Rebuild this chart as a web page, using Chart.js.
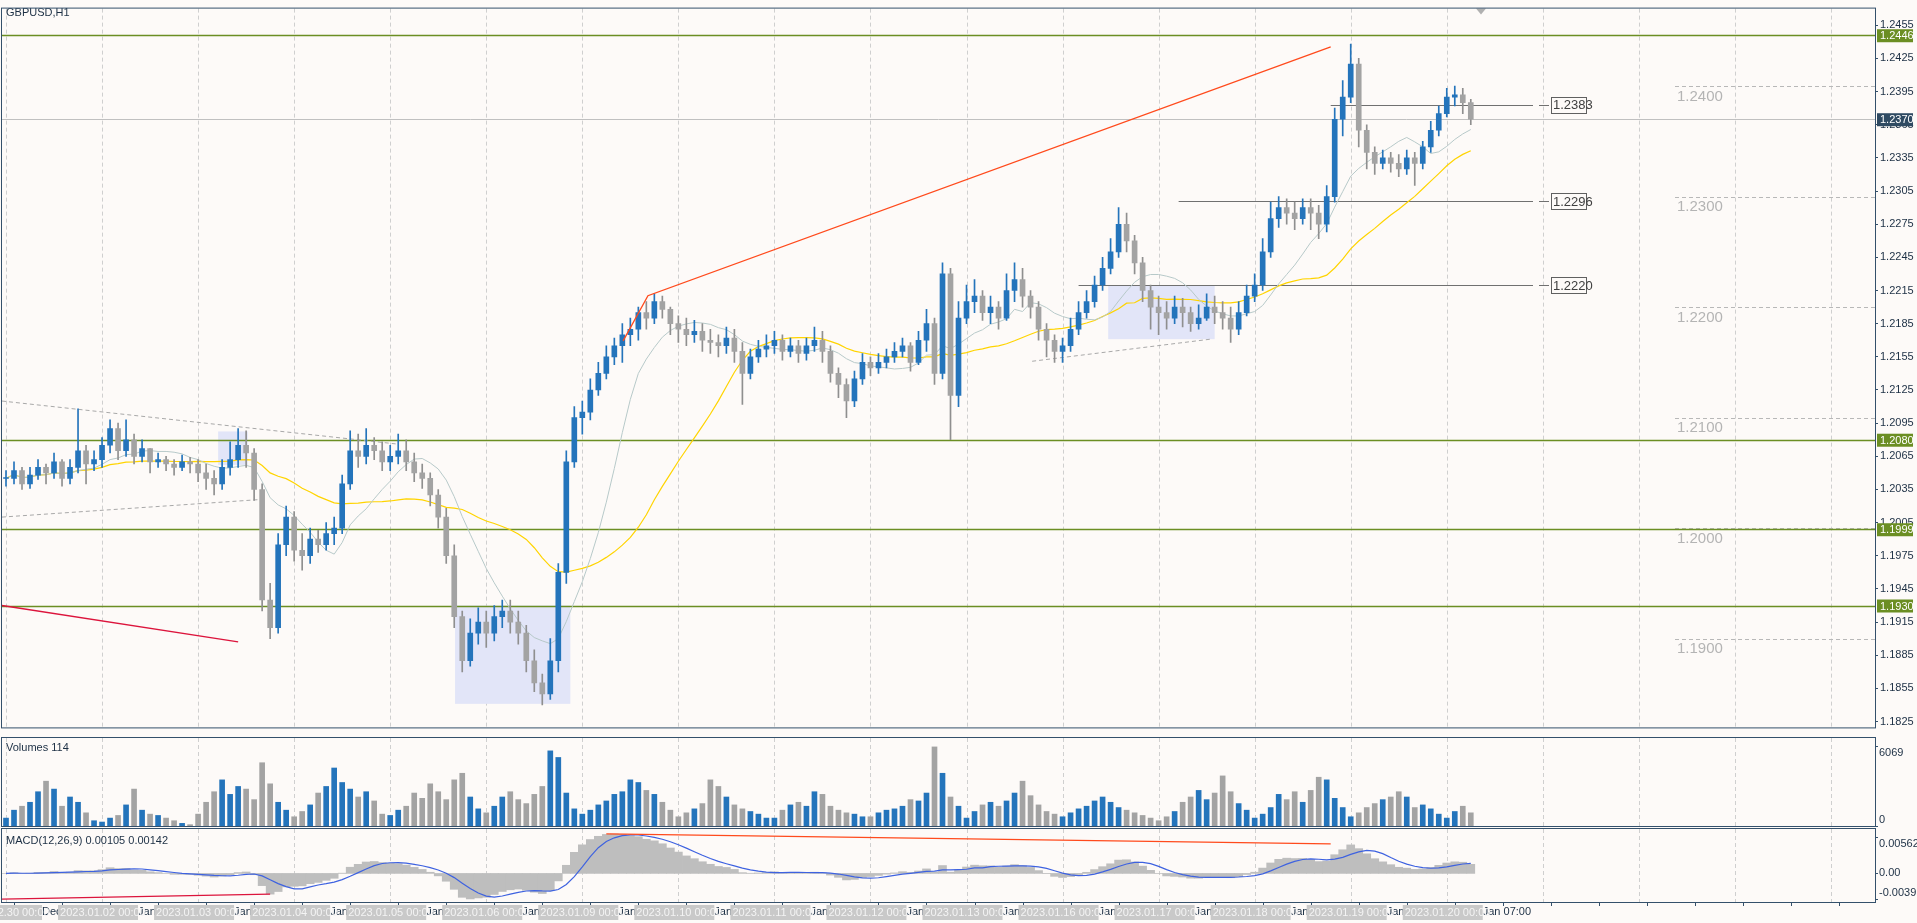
<!DOCTYPE html>
<html><head><meta charset="utf-8">
<script src="https://cdn.jsdelivr.net/npm/chart.js@4.4.0/dist/chart.umd.min.js"></script>
<style>
html,body{margin:0;padding:0;background:#fdfaf8;width:1917px;height:923px;overflow:hidden;font-family:"Liberation Sans",Arial,sans-serif}
canvas{position:absolute;left:0}
</style></head><body>
<canvas id="cMain" width="1917" height="736" style="top:0"></canvas>
<canvas id="cVol" width="1917" height="90" style="top:737px"></canvas>
<canvas id="cMacd" width="1917" height="97" style="top:828px"></canvas>
<script>
// ---- data (2-hour bars) ----
const OPEN0 = 1.2045;
const closes = [
1.2045,1.2052,1.2040,1.2048,1.2055,1.2050,1.2060,1.2045,1.2055,1.2070,1.2058,1.2062,
1.2075,1.2090,1.2070,1.2080,1.2065,1.2072,1.2060,1.2062,1.2058,1.2055,1.2060,1.2058,
1.2050,1.2045,1.2040,1.2055,1.2062,1.2075,1.2068,1.2035,1.1935,1.1910,1.1985,1.2010,
1.1980,1.1975,1.1990,1.1985,1.1995,1.2000,1.2040,1.2070,1.2065,1.2075,1.2070,1.2060,
1.2065,1.2070,1.2060,1.2050,1.2045,1.2030,1.2010,1.1975,1.1920,1.1880,1.1905,1.1915,
1.1905,1.1920,1.1925,1.1915,1.1905,1.1880,1.1860,1.1850,1.1880,1.1960,1.2060,1.2100,
1.2105,1.2125,1.2140,1.2155,1.2165,1.2175,1.2180,1.2195,1.2190,1.2205,1.2198,1.2185,
1.2180,1.2175,1.2178,1.2170,1.2168,1.2165,1.2172,1.2160,1.2140,1.2155,1.2162,1.2165,
1.2170,1.2160,1.2165,1.2158,1.2165,1.2170,1.2160,1.2140,1.2130,1.2115,1.2135,1.2150,
1.2145,1.2150,1.2155,1.2160,1.2165,1.2150,1.2170,1.2185,1.2140,1.2230,1.2120,1.2190,
1.2205,1.2210,1.2195,1.2200,1.2190,1.2215,1.2225,1.2210,1.2200,1.2180,1.2170,1.2160,
1.2165,1.2180,1.2195,1.2205,1.2220,1.2235,1.2250,1.2275,1.2260,1.2240,1.2215,1.2200,
1.2195,1.2190,1.2200,1.2195,1.2185,1.2190,1.2200,1.2195,1.2190,1.2180,1.2195,1.2210,
1.2220,1.2250,1.2280,1.2290,1.2285,1.2280,1.2290,1.2285,1.2275,1.2300,1.2370,1.2390,
1.2420,1.2360,1.2340,1.2330,1.2335,1.2330,1.2325,1.2335,1.2330,1.2345,1.2360,1.2375,
1.2390,1.2392,1.2385,1.2370];
const highs = [
1.2052,1.2060,1.2055,1.2055,1.2062,1.2058,1.2068,1.2062,1.2062,1.2108,1.2075,1.2070,
1.2082,1.2098,1.2095,1.2098,1.2085,1.2080,1.2072,1.2068,1.2065,1.2062,1.2066,1.2064,
1.2062,1.2058,1.2052,1.2062,1.2078,1.2090,1.2088,1.2072,1.2040,1.1950,1.1995,1.2020,
1.2015,1.1995,1.2000,1.1998,1.2005,1.2010,1.2048,1.2088,1.2085,1.2090,1.2082,1.2078,
1.2075,1.2085,1.2080,1.2068,1.2058,1.2050,1.2035,1.2018,1.1985,1.1925,1.1918,1.1928,
1.1925,1.1930,1.1935,1.1935,1.1925,1.1912,1.1890,1.1868,1.1900,1.1968,1.2070,1.2110,
1.2115,1.2135,1.2150,1.2165,1.2172,1.2185,1.2190,1.2200,1.2205,1.2212,1.2210,1.2200,
1.2192,1.2190,1.2188,1.2185,1.2180,1.2175,1.2182,1.2180,1.2168,1.2162,1.2170,1.2175,
1.2178,1.2175,1.2172,1.2170,1.2172,1.2182,1.2178,1.2165,1.2145,1.2135,1.2142,1.2158,
1.2155,1.2158,1.2162,1.2168,1.2172,1.2168,1.2178,1.2198,1.2190,1.2240,1.2235,1.2205,
1.2220,1.2225,1.2215,1.2210,1.2205,1.2230,1.2240,1.2235,1.2215,1.2205,1.2185,1.2175,
1.2172,1.2190,1.2205,1.2215,1.2228,1.2245,1.2262,1.2290,1.2285,1.2265,1.2245,1.2220,
1.2210,1.2205,1.2210,1.2208,1.2200,1.2202,1.2212,1.2210,1.2205,1.2200,1.2205,1.2220,
1.2230,1.2262,1.2295,1.2300,1.2298,1.2295,1.2298,1.2298,1.2292,1.2310,1.2380,1.2405,
1.2438,1.2425,1.2365,1.2345,1.2342,1.2340,1.2338,1.2342,1.2340,1.2350,1.2368,1.2382,
1.2398,1.2400,1.2398,1.2388];
const lows = [
1.2038,1.2040,1.2035,1.2036,1.2044,1.2040,1.2045,1.2038,1.2040,1.2050,1.2040,1.2052,
1.2055,1.2068,1.2062,1.2065,1.2058,1.2060,1.2050,1.2055,1.2052,1.2048,1.2052,1.2050,
1.2042,1.2035,1.2030,1.2035,1.2048,1.2055,1.2055,1.2025,1.1925,1.1900,1.1905,1.1975,
1.1970,1.1962,1.1968,1.1978,1.1980,1.1985,1.1995,1.2035,1.2055,1.2058,1.2062,1.2052,
1.2052,1.2058,1.2052,1.2042,1.2036,1.2020,1.2000,1.1968,1.1910,1.1870,1.1875,1.1895,
1.1892,1.1898,1.1910,1.1905,1.1895,1.1870,1.1852,1.1840,1.1845,1.1870,1.1950,1.2055,
1.2085,1.2098,1.2120,1.2135,1.2148,1.2150,1.2165,1.2170,1.2180,1.2185,1.2190,1.2175,
1.2168,1.2165,1.2168,1.2160,1.2158,1.2155,1.2158,1.2150,1.2112,1.2135,1.2150,1.2155,
1.2158,1.2152,1.2155,1.2150,1.2152,1.2160,1.2150,1.2132,1.2118,1.2100,1.2110,1.2130,
1.2138,1.2140,1.2145,1.2150,1.2155,1.2142,1.2148,1.2160,1.2130,1.2135,1.2080,1.2110,
1.2185,1.2195,1.2188,1.2185,1.2180,1.2188,1.2205,1.2200,1.2190,1.2170,1.2155,1.2150,
1.2150,1.2160,1.2175,1.2190,1.2200,1.2215,1.2230,1.2245,1.2250,1.2230,1.2205,1.2180,
1.2175,1.2180,1.2185,1.2182,1.2178,1.2180,1.2188,1.2185,1.2180,1.2168,1.2175,1.2192,
1.2205,1.2215,1.2245,1.2272,1.2275,1.2270,1.2275,1.2270,1.2262,1.2268,1.2295,1.2355,
1.2385,1.2345,1.2325,1.2320,1.2325,1.2322,1.2318,1.2320,1.2310,1.2325,1.2340,1.2355,
1.2372,1.2382,1.2375,1.2365];
const volumes = [
600,1200,1500,1800,2600,3400,2800,1500,2200,1800,1000,400,
300,600,800,1600,2800,1200,900,800,600,400,200,100,
900,1800,2600,3500,2400,3000,2800,2000,4800,3200,1800,1200,
700,1100,1600,2500,3000,4400,3300,2800,2200,2600,1900,900,
800,1200,1500,2500,2100,3200,2600,2000,3500,4000,2200,1300,
1000,1500,2200,2600,2000,1700,2400,3000,5700,5200,2500,1300,
900,1200,1600,1900,2400,2600,3500,3300,2700,2400,1800,1200,
700,1000,1300,1700,3500,3000,2200,1600,1300,1100,900,600,
600,1200,1600,1800,1500,2600,2400,1500,1200,1000,900,700,
700,1000,1200,1300,1500,2000,1900,2500,6000,4000,2200,1500,
600,1100,1600,1800,1500,1900,2500,3400,2300,1600,1100,900,
700,1000,1300,1500,1900,2200,1800,1400,1200,1000,800,600,
400,700,1100,1800,2200,2700,2000,2500,3800,2600,1700,1200,
600,900,1400,2400,2000,2600,1800,2700,3700,3500,2100,1400,
700,1000,1400,1700,2000,2200,2600,2200,1400,1600,1300,900,
600,1100,1500,1000];
const dayLabels = ['2022.12.30','2023.01.02','2023.01.03','2023.01.04','2023.01.05','2023.01.06','2023.01.09','2023.01.10','2023.01.11','2023.01.12','2023.01.13','2023.01.16','2023.01.17','2023.01.18','2023.01.19','2023.01.20'];
const darkLabels = ['30 Dec 2022','2 Jan 08:00','3 Jan 08:00','4 Jan 08:00','5 Jan 08:00','6 Jan 08:00','9 Jan 08:00','10 Jan 08:00','11 Jan 08:00','12 Jan 08:00','13 Jan 08:00','16 Jan 08:00','17 Jan 08:00','18 Jan 08:00','19 Jan 08:00','20 Jan 07:00'];
const priceTicks = [];
for (let k=0;k<=21;k++) priceTicks.push(+(1.2455-0.003*k).toFixed(4));
const greenLevels = [1.2446,1.2080,1.1999,1.1930];
const boxLevels = [{p:1.2383,from:165.5},{p:1.2296,from:146.5},{p:1.2220,from:134}];
const roundLevels = [1.2400,1.2300,1.2200,1.2100,1.2000,1.1900];
const currentPrice = 1.2370;
const macdTicks = [0.00562,0,-0.00391];
const volTicks = [6069,0];

// ---- derived ----
const N = closes.length, SLOTS = 234;
const opens = closes.map((c,i)=> i===0?OPEN0:closes[i-1]);
const H = highs.map((h,i)=>Math.max(h,opens[i],closes[i]));
const L = lows.map((l,i)=>Math.min(l,opens[i],closes[i]));
const up = closes.map((c,i)=>c>=opens[i]);
const labels = Array.from({length:SLOTS},(_,i)=>String(i));
function sma(a,n){return a.map((_,i)=>{const s=a.slice(Math.max(0,i-n+1),i+1);return s.reduce((x,y)=>x+y,0)/s.length;});}
function ema(a,n){const k=2/(n+1);let e=a[0];return a.map(v=>(e=v*k+e*(1-k)));}
const maFast = sma(closes,10), maSlow = sma(closes,24);
const e1=ema(closes,6), e2=ema(closes,13);
const macdMain = closes.map((_,i)=>e1[i]-e2[i]);
const macdSig = sma(macdMain,5);

const BLUE='#2474bb', GRAY='#a3a3a3', BORDER='#34506b', AXTXT='#1c2f44';
const FONT='"Liberation Sans",Arial,sans-serif';
Chart.defaults.font.family=FONT;
Chart.defaults.animation=false;

function fx(chart,i){const x=chart.scales.x;const a=x.getPixelForValue(0),b=x.getPixelForValue(1);return a+i*(b-a);}
function gridAndBorder(chart){
  const {ctx,chartArea:ca}=chart;
  ctx.save();ctx.strokeStyle='#cfcfcf';ctx.setLineDash([4,3]);ctx.lineWidth=1;
  for(let i=0;i<SLOTS;i+=12){const x=Math.round(fx(chart,i))+0.5;ctx.beginPath();ctx.moveTo(x,ca.top);ctx.lineTo(x,ca.bottom);ctx.stroke();}
  ctx.restore();
}
function frame(chart){const {ctx,chartArea:ca}=chart;ctx.save();ctx.strokeStyle=BORDER;ctx.lineWidth=1;ctx.strokeRect(ca.left-0.5,ca.top-0.5,ca.right-ca.left+1,ca.bottom-ca.top+1);ctx.restore();}
const xScale = {type:'category',labels,display:false,offset:true,grid:{display:false}};

// ---- main chart ----
const mainPlugin={id:'mainOv',
beforeDatasetsDraw(chart){
  const {ctx,chartArea:ca}=chart;const y=chart.scales.y;
  gridAndBorder(chart);
  ctx.save();
  ctx.beginPath();ctx.rect(ca.left,ca.top,ca.right-ca.left,ca.bottom-ca.top);ctx.clip();
  ctx.fillStyle='#e2e5f8';
  [[26.5,30.2,1.20875,1.20572],[56.1,70.5,1.1930,1.1841],[137.7,151,1.2220,1.2171]].forEach(b=>{
    const x1=fx(chart,b[0]),x2=fx(chart,b[1]),y1=y.getPixelForValue(b[2]),y2=y.getPixelForValue(b[3]);ctx.fillRect(x1,y1,x2-x1,y2-y1);});
  // round levels
  ctx.strokeStyle='#b8b8b8';ctx.setLineDash([4,3]);
  roundLevels.forEach(p=>{const yy=Math.round(y.getPixelForValue(p))+0.5;ctx.beginPath();ctx.moveTo(1675,yy);ctx.lineTo(ca.right,yy);ctx.stroke();});
  ctx.setLineDash([]);
  ctx.fillStyle='#b4b4b4';ctx.font='15px '+FONT;ctx.textBaseline='top';
  roundLevels.forEach(p=>ctx.fillText(p.toFixed(4),1677,y.getPixelForValue(p)+3));
  // current price line
  ctx.strokeStyle='#c0c0c0';let yy=Math.round(y.getPixelForValue(currentPrice))+0.5;
  ctx.beginPath();ctx.moveTo(ca.left,yy);ctx.lineTo(ca.right,yy);ctx.stroke();
  // green levels
  ctx.strokeStyle='#6b8e23';ctx.lineWidth=1.5;
  greenLevels.forEach(p=>{const yy=Math.round(y.getPixelForValue(p))+0.5;ctx.beginPath();ctx.moveTo(ca.left,yy);ctx.lineTo(ca.right,yy);ctx.stroke();});
  ctx.lineWidth=1;
  // short levels
  ctx.strokeStyle='#707070';
  boxLevels.forEach(b=>{const yy=Math.round(y.getPixelForValue(b.p))+0.5;ctx.beginPath();ctx.moveTo(fx(chart,b.from),yy);ctx.lineTo(1533,yy);ctx.moveTo(1539,yy);ctx.lineTo(1549,yy);ctx.stroke();});
  // dashed channel lines
  ctx.strokeStyle='#a8a8a8';ctx.setLineDash([4,3]);
  [[-0.5,1.2115,49,1.2076],[-0.5,1.2010,32,1.2026],[128.2,1.2151,150.5,1.2171]].forEach(l=>{
    ctx.beginPath();ctx.moveTo(fx(chart,l[0]),y.getPixelForValue(l[1]));ctx.lineTo(fx(chart,l[2]),y.getPixelForValue(l[3]));ctx.stroke();});
  ctx.setLineDash([]);
  ctx.restore();
},
afterDatasetsDraw(chart){
  const {ctx,chartArea:ca}=chart;const y=chart.scales.y;
  ctx.save();
  ctx.lineWidth=1.3;
  ctx.strokeStyle='#ff4a1c';ctx.beginPath();
  ctx.moveTo(fx(chart,77.1),y.getPixelForValue(1.21694));ctx.lineTo(fx(chart,80.2),y.getPixelForValue(1.22103));ctx.lineTo(fx(chart,165.5),y.getPixelForValue(1.24354));ctx.stroke();
  ctx.strokeStyle='#dc143c';ctx.beginPath();
  ctx.moveTo(ca.left,y.getPixelForValue(1.1930));ctx.lineTo(fx(chart,29),y.getPixelForValue(1.18971));ctx.stroke();
  ctx.lineWidth=1;
  // boxed labels
  ctx.font='13px '+FONT;ctx.textBaseline='middle';
  boxLevels.forEach(b=>{const yy=y.getPixelForValue(b.p);ctx.fillStyle='#fdfaf8';ctx.fillRect(1551,yy-8,35,16);ctx.strokeStyle='#606060';ctx.strokeRect(1551.5,Math.round(yy-8)+0.5,35,16);ctx.fillStyle='#404040';ctx.fillText(b.p.toFixed(4),1553,yy+1);});
  // axis label boxes
  ctx.font='11px '+FONT;
  greenLevels.forEach(p=>{const yy=y.getPixelForValue(p);ctx.fillStyle='#6b8e23';ctx.fillRect(1877,yy-6,36,13);ctx.fillStyle='#fff';ctx.fillText(p.toFixed(4),1880,yy+1);});
  yy2=y.getPixelForValue(currentPrice);ctx.fillStyle='#2f4a62';ctx.fillRect(1877,yy2-6,36,13);ctx.fillStyle='#fff';ctx.fillText(currentPrice.toFixed(4),1880,yy2+1);
  // title & marker
  ctx.fillStyle='#1c2f44';ctx.font='11px '+FONT;ctx.textBaseline='top';ctx.fillText('GBPUSD,H1',6,7);
  ctx.fillStyle='#b0b0b0';ctx.beginPath();ctx.moveTo(1476,ca.top);ctx.lineTo(1486,ca.top);ctx.lineTo(1481,ca.top+6);ctx.fill();
  ctx.restore();
  frame(chart);
}};
let yy2;
new Chart(document.getElementById('cMain'),{
  data:{labels,datasets:[
    {type:'line',data:maFast,borderColor:'#b7c9c9',borderWidth:1,pointRadius:0,order:3},
    {type:'line',data:maSlow,borderColor:'#ffd400',borderWidth:1.2,pointRadius:0,order:3},
    {type:'bar',data:H.map((h,i)=>[L[i],h]),backgroundColor:up.map(u=>u?BLUE:'#8f8f8f'),barThickness:1,grouped:false,order:2},
    {type:'bar',data:closes.map((c,i)=>{const a=Math.min(c,opens[i]),b=Math.max(c,opens[i]);return [a,Math.max(b,a+0.00008)];}),backgroundColor:up.map(u=>u?BLUE:GRAY),barThickness:5,grouped:false,order:1}
  ]},
  options:{responsive:false,devicePixelRatio:1,layout:{padding:{left:2,top:4,bottom:1,right:0}},
    plugins:{legend:{display:false},tooltip:{enabled:false}},
    scales:{x:xScale,
      y:{position:'right',min:1.18197,max:1.24701,afterFit:s=>{s.width=42;},
        afterBuildTicks:s=>{s.ticks=priceTicks.map(v=>({value:v}));},
        grid:{drawOnChartArea:false,drawTicks:true,tickLength:3,color:BORDER},border:{color:BORDER},
        ticks:{color:AXTXT,font:{size:11},padding:2,callback:v=>(+v).toFixed(4)}}}},
  plugins:[mainPlugin]});

// ---- volumes ----
function sideLabels(vals,fmt){return {id:'side',afterDraw(chart){const {ctx,chartArea:ca}=chart;const y=chart.scales.y;ctx.save();ctx.fillStyle=AXTXT;ctx.font='11px '+FONT;ctx.textBaseline='middle';ctx.strokeStyle=BORDER;
  vals.forEach((v,k)=>{let yy=y.getPixelForValue(v);ctx.beginPath();ctx.moveTo(ca.right,Math.round(yy)+0.5);ctx.lineTo(ca.right+3,Math.round(yy)+0.5);ctx.stroke();ctx.fillText(fmt(v),ca.right+4,yy+(k===0?7:(k===vals.length-1?-6:0)));});ctx.restore();}};}
new Chart(document.getElementById('cVol'),{
  type:'bar',
  data:{labels,datasets:[{data:volumes,backgroundColor:up.map(u=>u?BLUE:GRAY),barThickness:5}]},
  options:{responsive:false,devicePixelRatio:1,layout:{padding:{left:2,top:1,bottom:1,right:0}},
    plugins:{legend:{display:false},tooltip:{enabled:false}},
    scales:{x:xScale,y:{position:'right',min:0,max:6676,afterFit:s=>{s.width=42;},ticks:{display:false},grid:{display:false},border:{color:BORDER}}}},
  plugins:[{id:'vb',beforeDatasetsDraw:gridAndBorder,afterDatasetsDraw(chart){frame(chart);const c=chart.ctx;c.save();c.fillStyle='#1c2f44';c.font='11px '+FONT;c.textBaseline='top';c.fillText('Volumes 114',6,5);c.restore();}},sideLabels(volTicks,v=>String(v))]});

// ---- MACD ----
new Chart(document.getElementById('cMacd'),{
  data:{labels,datasets:[
    {type:'line',data:macdSig,borderColor:'#3e62e0',borderWidth:1.2,pointRadius:0,order:1},
    {type:'bar',data:macdMain,backgroundColor:'#bebebe',barPercentage:1,categoryPercentage:1,order:2}]},
  options:{responsive:false,devicePixelRatio:1,layout:{padding:{left:2,top:1,bottom:23,right:0}},
    plugins:{legend:{display:false},tooltip:{enabled:false}},
    scales:{x:xScale,y:{position:'right',min:-0.0044,max:0.00684,afterFit:s=>{s.width=42;},ticks:{display:false},grid:{display:false},border:{color:BORDER}}}},
  plugins:[{id:'mb',beforeDatasetsDraw:gridAndBorder,afterDatasetsDraw(chart){
    const {ctx,chartArea:ca}=chart;const y=chart.scales.y;
    ctx.save();ctx.lineWidth=1.3;
    ctx.strokeStyle='#dc143c';ctx.beginPath();ctx.moveTo(ca.left,y.getPixelForValue(-0.00395));ctx.lineTo(fx(chart,33),y.getPixelForValue(-0.00319));ctx.stroke();
    ctx.strokeStyle='#ff4a1c';ctx.beginPath();ctx.moveTo(fx(chart,75),y.getPixelForValue(0.0061));ctx.lineTo(fx(chart,165.5),y.getPixelForValue(0.00456));ctx.stroke();
    ctx.fillStyle='#1c2f44';ctx.font='11px '+FONT;ctx.textBaseline='top';ctx.fillText('MACD(12,26,9) 0.00105 0.00142',6,7);
    ctx.restore();frame(chart);
    // time axis labels
    ctx.save();ctx.font='11px '+FONT;ctx.textBaseline='middle';const ty=ca.bottom+10;
    ctx.strokeStyle=BORDER;
    for(let i=1;i<SLOTS;i+=6){const x=Math.round(fx(chart,i))+0.5;ctx.beginPath();ctx.moveTo(x,ca.bottom);ctx.lineTo(x,ca.bottom+4);ctx.stroke();}
    const lefts=dayLabels.map((d,k)=>fx(chart,-5+12*k)-4);
    ctx.fillStyle='#1c2f44';
    darkLabels.forEach((t,k)=>{const w=ctx.measureText(t.split(' ')[0]+' ').width;ctx.fillText(t,lefts[k]+80-w,ty);});
    dayLabels.forEach((d,k)=>{ctx.fillStyle='#c9c9c9';ctx.fillRect(lefts[k],ca.bottom+3,80,15);ctx.fillStyle='#f4f4f4';ctx.fillText(d+' 00:00',lefts[k]+2,ty+1);});
    ctx.restore();
  }},sideLabels(macdTicks,v=>v===0?'0.00':v.toFixed(5))]});
</script></body></html>
